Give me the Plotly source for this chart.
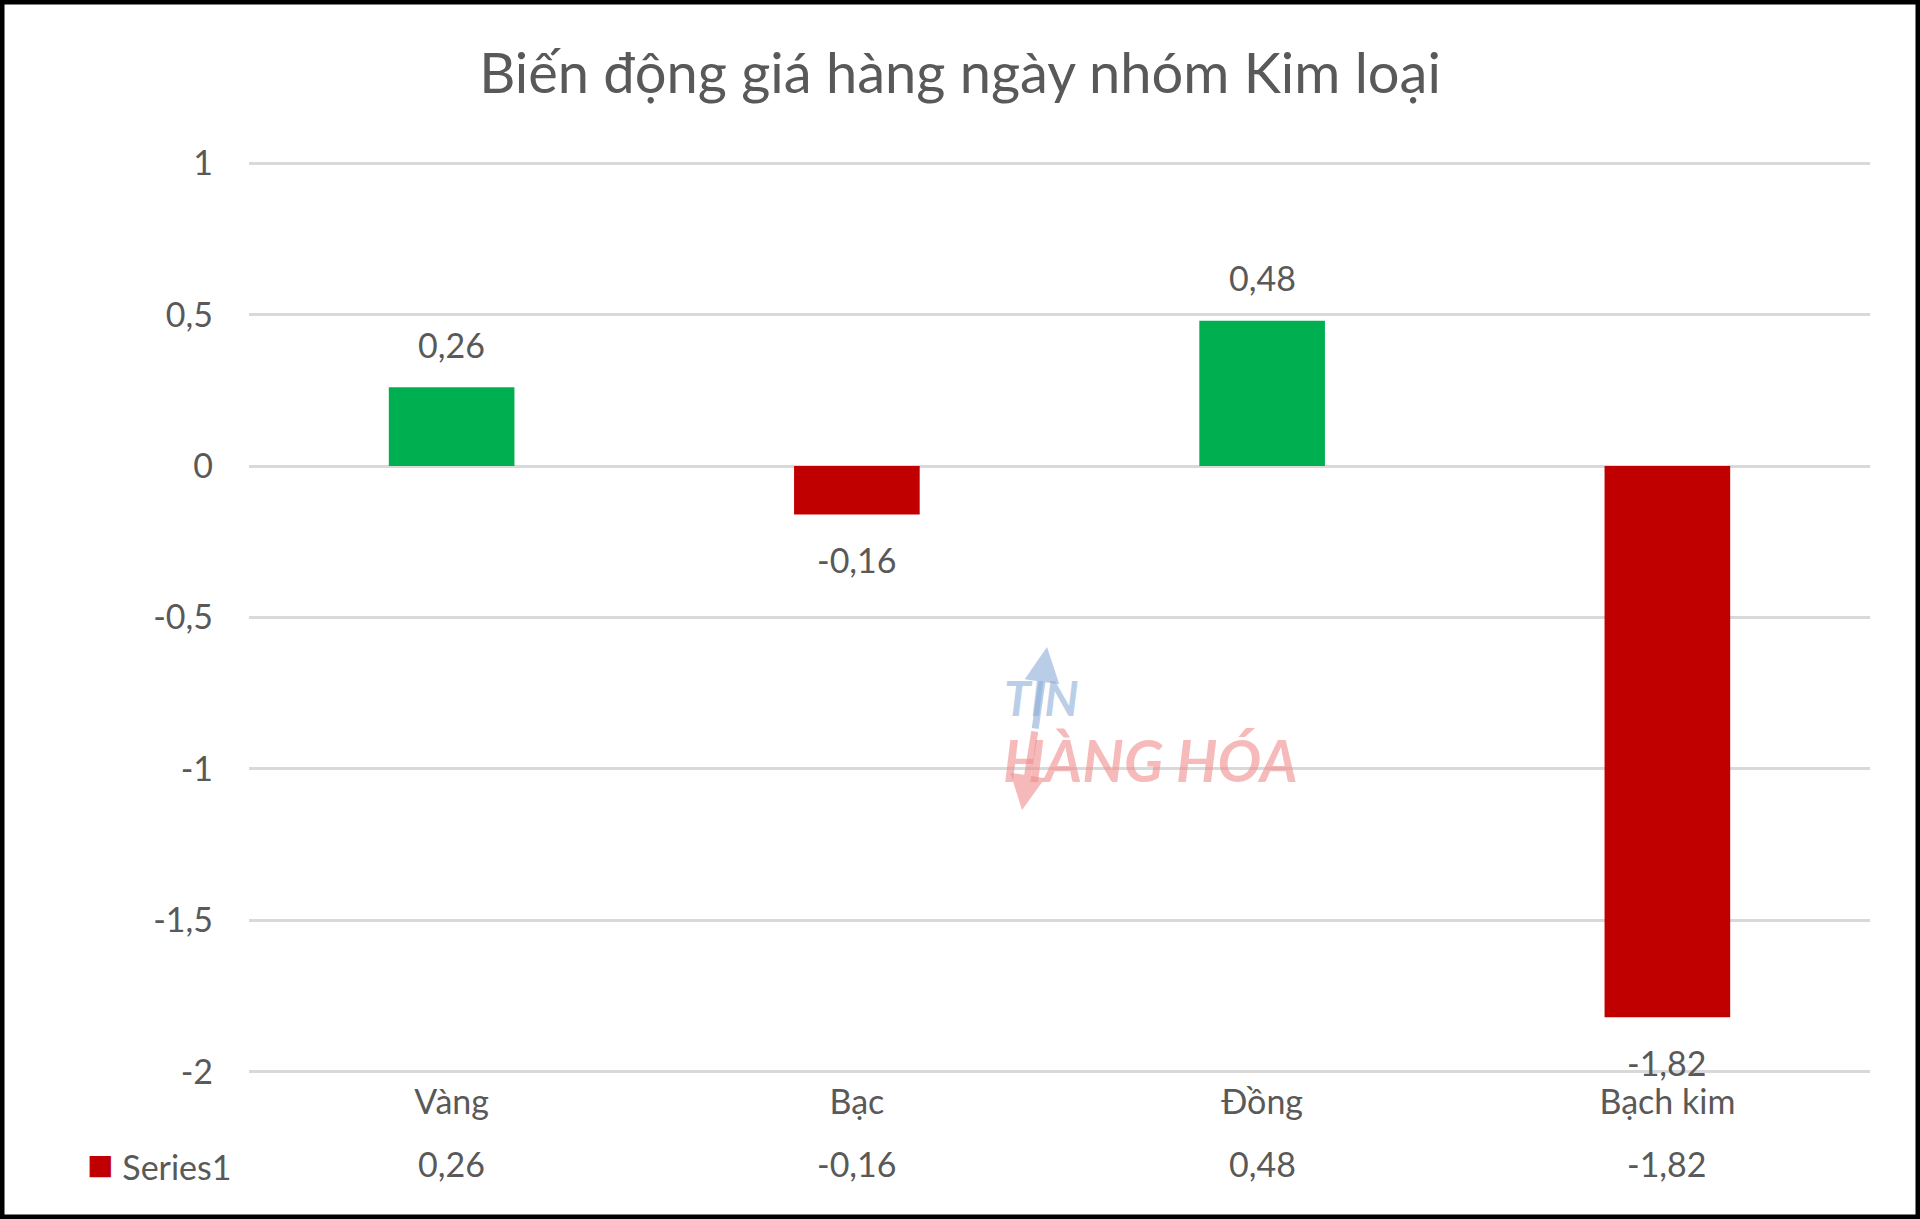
import plotly.graph_objects as go

categories = ["Vàng", "Bạc", "Đồng", "Bạch kim"]
values = [0.26, -0.16, 0.48, -1.82]
value_labels = ["0,26", "-0,16", "0,48", "-1,82"]
tick_vals = [1, 0.5, 0, -0.5, -1, -1.5, -2]
tick_text = ["1", "0,5", "0", "-0,5", "-1", "-1,5", "-2"]
series_name = "Series1"
title_text = "Biến động giá hàng ngày nhóm Kim loại"

GREEN = "#00B050"
RED = "#C00000"
GRAY = "#595959"
FONT = "Lato"

W, H = 1920, 1219
L, R, T, B = 249, 50, 162, 146
PW, PH = W - L - R, H - T - B

def px_x(px):
    return (px - L) / PW

def px_y(py):
    return (H - B - py) / PH

colors = [GREEN if v >= 0 else RED for v in values]

fig = go.Figure()
fig.add_trace(go.Bar(x=categories, y=values, marker=dict(color=colors, line=dict(width=0)),
                     name=series_name, showlegend=False, hoverinfo="skip"))

annotations = []
# data labels
for c, v, lab in zip(categories, values, value_labels):
    annotations.append(dict(x=c, y=v, xref="x", yref="y", text=lab, showarrow=False,
                            yanchor="middle", yshift=43 if v >= 0 else -45,
                            font=dict(family=FONT, size=34, color=GRAY)))
# data table row
for c, lab in zip(categories, value_labels):
    annotations.append(dict(x=c, y=px_y(1163), xref="x", yref="paper", text=lab, showarrow=False,
                            yanchor="middle", font=dict(family=FONT, size=34, color=GRAY)))
annotations.append(dict(x=px_x(234), y=px_y(1163), xref="paper", yref="paper",
                        text=f"<span style='color:{RED};font-size:44px'>■</span> {series_name}",
                        showarrow=False, xanchor="right", yanchor="middle",
                        font=dict(family=FONT, size=34, color=GRAY)))
# watermark
annotations.append(dict(x=px_x(1041), y=px_y(697), xref="paper", yref="paper",
                        text="<b><i>TIN</i></b>", showarrow=False,
                        font=dict(family=FONT, size=48, color="rgba(140,175,215,0.6)")))
annotations.append(dict(x=px_x(1150), y=px_y(759), xref="paper", yref="paper",
                        text="<b><i>HÀNG HÓA</i></b>", showarrow=False,
                        font=dict(family=FONT, size=58, color="rgba(240,140,140,0.6)")))
annotations.append(dict(x=px_x(1047), y=px_y(647), xref="paper", yref="paper", text="",
                        showarrow=True, arrowhead=2, arrowsize=1.0, arrowwidth=7,
                        arrowcolor="rgba(140,175,215,0.6)", ax=-12, ay=83))
annotations.append(dict(x=px_x(1022), y=px_y(810), xref="paper", yref="paper", text="",
                        showarrow=True, arrowhead=2, arrowsize=1.0, arrowwidth=7,
                        arrowcolor="rgba(240,140,140,0.6)", ax=13, ay=-80))

shapes = [dict(type="rect", xref="paper", yref="paper",
               x0=px_x(0), x1=px_x(W), y0=px_y(H), y1=px_y(0),
               line=dict(color="black", width=9), fillcolor="rgba(0,0,0,0)", layer="above")]

fig.update_layout(
    width=W, height=H,
    margin=dict(l=L, r=R, t=T, b=B),
    paper_bgcolor="white", plot_bgcolor="white",
    bargap=0.69,
    title=dict(text=title_text, x=0.5, xref="container", y=1 - 73 / H, yref="container",
               yanchor="middle", xanchor="center", font=dict(family=FONT, size=56, color=GRAY)),
    xaxis=dict(showgrid=False, showline=False, ticks="", tickfont=dict(family=FONT, size=34, color=GRAY),
               ticklabelstandoff=6),
    yaxis=dict(range=[-2.004, 1.004], tickvals=tick_vals, ticktext=tick_text, showgrid=True,
               gridcolor="#D9D9D9", gridwidth=3, zeroline=False, showline=False, ticks="",
               ticklabelstandoff=35, tickfont=dict(family=FONT, size=34, color=GRAY)),
    annotations=annotations,
    shapes=shapes,
    font=dict(family=FONT, color=GRAY),
)

fig.write_html("out.html", config={"displayModeBar": False},
               post_script="document.body.style.margin='0';document.body.style.overflow='hidden';")
